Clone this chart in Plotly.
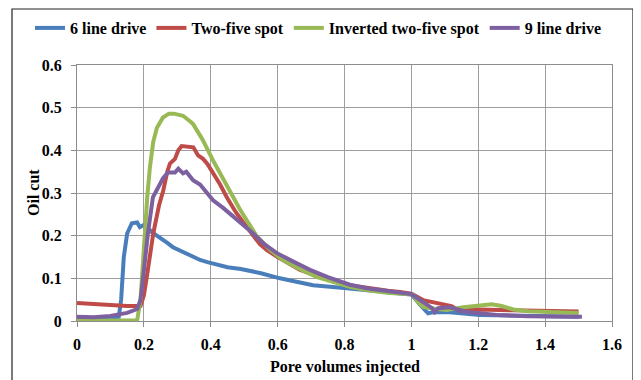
import plotly.graph_objects as go

# 6 line drive
blue_x = [0, 0.05, 0.10, 0.125, 0.132, 0.140, 0.150, 0.164, 0.180, 0.188, 0.203, 0.224, 0.248, 0.270, 0.287, 0.310, 0.329, 0.368, 0.39, 0.42, 0.45, 0.49, 0.55, 0.607, 0.66, 0.706, 0.807, 0.90, 0.95, 1.0, 1.03, 1.05, 1.06, 1.106, 1.205, 1.30, 1.40, 1.50]
blue_y = [0.003, 0.004, 0.006, 0.010, 0.05, 0.15, 0.205, 0.229, 0.231, 0.220, 0.226, 0.208, 0.196, 0.183, 0.173, 0.164, 0.159, 0.143, 0.138, 0.132, 0.126, 0.122, 0.112, 0.100, 0.091, 0.084, 0.077, 0.070, 0.066, 0.062, 0.035, 0.018, 0.020, 0.021, 0.014, 0.012, 0.011, 0.010]

# Two-five spot
red_x = [0, 0.05, 0.10, 0.15, 0.19, 0.20, 0.21, 0.228, 0.245, 0.258, 0.27, 0.278, 0.293, 0.303, 0.313, 0.33, 0.348, 0.362, 0.377, 0.39, 0.407, 0.428, 0.448, 0.475, 0.508, 0.547, 0.568, 0.60, 0.667, 0.72, 0.766, 0.82, 0.867, 0.93, 0.966, 1.0, 1.035, 1.075, 1.12, 1.145, 1.20, 1.30, 1.40, 1.50]
red_y = [0.042, 0.039, 0.037, 0.035, 0.035, 0.06, 0.11, 0.205, 0.27, 0.306, 0.35, 0.369, 0.38, 0.40, 0.41, 0.408, 0.407, 0.388, 0.38, 0.368, 0.348, 0.32, 0.29, 0.255, 0.22, 0.18, 0.166, 0.15, 0.12, 0.105, 0.093, 0.083, 0.077, 0.071, 0.068, 0.064, 0.049, 0.042, 0.035, 0.024, 0.027, 0.025, 0.024, 0.022]

# Inverted two-five spot
green_x = [0, 0.10, 0.18, 0.19, 0.197, 0.203, 0.21, 0.218, 0.228, 0.239, 0.257, 0.275, 0.29, 0.317, 0.335, 0.347, 0.36, 0.377, 0.407, 0.428, 0.448, 0.487, 0.538, 0.58, 0.616, 0.67, 0.718, 0.77, 0.816, 0.87, 0.927, 0.97, 1.005, 1.02, 1.035, 1.056, 1.08, 1.106, 1.155, 1.205, 1.24, 1.27, 1.305, 1.35, 1.405, 1.50]
green_y = [0.0, 0.0, 0.002, 0.05, 0.15, 0.205, 0.29, 0.36, 0.42, 0.453, 0.477, 0.486, 0.486, 0.481, 0.47, 0.462, 0.445, 0.423, 0.376, 0.345, 0.318, 0.262, 0.198, 0.165, 0.143, 0.12, 0.103, 0.09, 0.08, 0.072, 0.066, 0.064, 0.062, 0.044, 0.033, 0.030, 0.027, 0.026, 0.032, 0.037, 0.039, 0.035, 0.027, 0.023, 0.021, 0.019]

# 9 line drive
purple_x = [0, 0.05, 0.10, 0.15, 0.18, 0.19, 0.197, 0.212, 0.227, 0.242, 0.257, 0.272, 0.293, 0.303, 0.317, 0.327, 0.347, 0.368, 0.39, 0.407, 0.437, 0.467, 0.497, 0.527, 0.56, 0.598, 0.65, 0.697, 0.75, 0.816, 0.87, 0.927, 0.97, 1.0, 1.035, 1.062, 1.07, 1.08, 1.115, 1.166, 1.256, 1.35, 1.51]
purple_y = [0.010, 0.009, 0.012, 0.019, 0.028, 0.05, 0.096, 0.205, 0.29, 0.31, 0.334, 0.348, 0.348, 0.357, 0.346, 0.35, 0.33, 0.32, 0.30, 0.283, 0.265, 0.246, 0.225, 0.205, 0.18, 0.159, 0.138, 0.12, 0.103, 0.085, 0.076, 0.07, 0.066, 0.063, 0.044, 0.03, 0.021, 0.03, 0.032, 0.021, 0.014, 0.011, 0.010]

series = [
    ("6 line drive", blue_x, blue_y, "#4A7EBB"),
    ("Two-five spot", red_x, red_y, "#BE4B48"),
    ("Inverted two-five spot", green_x, green_y, "#98B954"),
    ("9 line drive", purple_x, purple_y, "#7D60A0"),
]

x_ticks = [0, 0.2, 0.4, 0.6, 0.8, 1, 1.2, 1.4, 1.6]
x_tick_labels = ["0", "0.2", "0.4", "0.6", "0.8", "1", "1.2", "1.4", "1.6"]
y_ticks = [0, 0.1, 0.2, 0.3, 0.4, 0.5, 0.6]
y_tick_labels = ["0", "0.1", "0.2", "0.3", "0.4", "0.5", "0.6"]
x_title = "Pore volumes injected"
y_title = "Oil cut"

FONT = "Liberation Serif"
FS = 16

fig = go.Figure()
for name, xs, ys, col in series:
    fig.add_trace(go.Scatter(x=xs, y=ys, name="<b>" + name + "</b>", mode="lines",
                             line=dict(color=col, width=4)))

# page body has an 8px margin: figure coords = screen coords - 8
OFF = 8
W, H = 641, 380
L, R, T, B = 77 - OFF, 612 - OFF, 65 - OFF, 321 - OFF
pw, ph = R - L, B - T

def sx(px):
    return (px - OFF - L) / pw

def sy(py):
    return (B - (py - OFF)) / ph

fig.update_layout(
    width=W, height=H,
    margin=dict(l=L, r=W - R, t=T, b=H - B, pad=0, autoexpand=False),
    paper_bgcolor="white", plot_bgcolor="white",
    font=dict(family=FONT, size=FS, color="black"),
    showlegend=True,
    legend=dict(orientation="h", x=sx(30), xanchor="left",
                y=sy(28), yanchor="middle",
                font=dict(family=FONT, size=FS, color="black"),
                itemwidth=30, tracegroupgap=0, bgcolor="rgba(0,0,0,0)"),
    xaxis=dict(range=[0, 1.6], tickvals=x_ticks,
               ticktext=["<b>" + t + "</b>" for t in x_tick_labels],
               showgrid=True, gridcolor="#9E9E9E", gridwidth=1.3,
               showline=True, linecolor="#8C8C8C", linewidth=1.3, mirror=True,
               ticks="outside", ticklen=5, tickcolor="#8C8C8C",
               ticklabelstandoff=4, zeroline=False,
               tickfont=dict(family=FONT, size=FS, color="black")),
    yaxis=dict(range=[0, 0.6], tickvals=y_ticks,
               ticktext=["<b>" + t + "</b>" for t in y_tick_labels],
               showgrid=True, gridcolor="#9E9E9E", gridwidth=1.3,
               showline=True, linecolor="#8C8C8C", linewidth=1.3, mirror=True,
               ticks="outside", ticklen=5, tickcolor="#8C8C8C",
               ticklabelstandoff=6, zeroline=False,
               tickfont=dict(family=FONT, size=FS, color="black")),
)

fig.add_annotation(text="<b>" + x_title + "</b>", xref="paper", yref="paper",
                   x=sx(345), y=sy(367), xanchor="center", yanchor="middle",
                   showarrow=False, font=dict(family=FONT, size=FS, color="black"))
fig.add_annotation(text="<b>" + y_title + "</b>", xref="paper", yref="paper",
                   x=sx(33), y=sy(193), xanchor="center", yanchor="middle",
                   textangle=-90, showarrow=False,
                   font=dict(family=FONT, size=FS, color="black"))

fig.add_shape(type="rect", xref="paper", yref="paper",
              x0=sx(12), x1=sx(633), y0=sy(395), y1=sy(9),
              line=dict(color="#222222", width=1.2), fillcolor="rgba(0,0,0,0)",
              layer="below")

fig.write_html("out.html")
